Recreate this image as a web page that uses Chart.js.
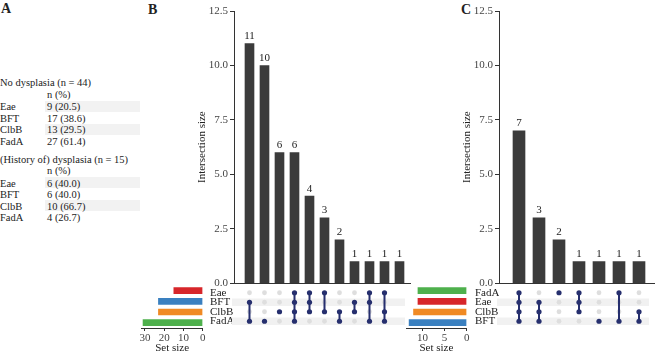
<!DOCTYPE html>
<html>
<head>
<meta charset="utf-8">
<script src="https://cdn.jsdelivr.net/npm/chart.js@4.4.1/dist/chart.umd.min.js"></script>
<style>
  body { margin: 0; width: 663px; height: 355px; background: #fff; position: relative; overflow: hidden;
         font-family: 'Liberation Serif', 'DejaVu Serif', serif; color: #222; }
  canvas { position: absolute; }
  .t { position: absolute; font-size: 10.5px; line-height: 11px; white-space: nowrap; }
  .band { position: absolute; background: #f2f2f2; left: 45px; width: 95px; height: 11px; }
  .lab { position: absolute; font-weight: bold; font-size: 14px; line-height: 14px; }
</style>
</head>
<body>
<div class="lab" style="left:1px;top:2px">A</div>
<div class="lab" style="left:148px;top:3px">B</div>
<div class="lab" style="left:461px;top:3px">C</div>
<script>
// --- panel A: table
const tableSets = ['Eae', 'BFT', 'ClbB', 'FadA'];
const groupTitles = ['No dysplasia (n = 44)', '(History of) dysplasia (n = 15)'];
const countsNo = [9, 17, 13, 27];
const pctNo = ['20.5', '38.6', '29.5', '61.4'];
const countsDys = [6, 6, 10, 4];
const pctDys = ['40.0', '40.0', '66.7', '26.7'];

// --- panel B: all patients
const setsB = ['Eae', 'BFT', 'ClbB', 'FadA'];
const setSizeB = [15, 23, 23, 31];
const interB = [11, 10, 6, 6, 4, 3, 2, 1, 1, 1, 1];
const membersB = [
  ['BFT', 'FadA'], ['FadA'], ['ClbB'], ['Eae', 'BFT', 'ClbB', 'FadA'], ['Eae', 'BFT', 'ClbB'],
  ['Eae', 'ClbB'], ['ClbB', 'FadA'], ['BFT', 'ClbB'], ['Eae', 'BFT', 'FadA'], ['Eae', 'ClbB', 'FadA'], []
];

// --- panel C
const setsC = ['FadA', 'Eae', 'ClbB', 'BFT'];
const setSizeC = [11, 11, 12, 13];
const interC = [7, 3, 2, 1, 1, 1, 1];
const membersC = [
  ['FadA', 'Eae', 'ClbB', 'BFT'], ['Eae', 'ClbB', 'BFT'], ['FadA'], ['FadA', 'Eae', 'ClbB'],
  ['BFT'], ['FadA', 'BFT'], ['ClbB', 'BFT']
];

const setColors = { Eae: '#d7262a', BFT: '#3a80c0', ClbB: '#f08a24', FadA: '#4eb04c' };
const NAVY = '#262f6e';
const FONT = "'Liberation Serif', 'DejaVu Serif', serif";

// table
function addText(txt, left, top) {
  const d = document.createElement('div');
  d.className = 't';
  d.textContent = txt;
  d.style.left = left + 'px';
  d.style.top = top + 'px';
  document.body.appendChild(d);
}
function addBand(top) {
  const d = document.createElement('div');
  d.className = 'band';
  d.style.top = top + 'px';
  document.body.appendChild(d);
}
[[countsNo, pctNo], [countsDys, pctDys]].forEach(([cnt, pct], g) => {
  const y0 = 77 + g * 76.5;
  [0, 2].forEach(r => addBand(y0 + 23.5 + r * 11.6));
  addText(groupTitles[g], 0, y0);
  addText('n (%)', 47, y0 + 11.5);
  tableSets.forEach((s, r) => {
    addText(s, 0, y0 + 24 + r * 11.6);
    addText(cnt[r] + ' (' + pct[r] + ')', 47, y0 + 24 + r * 11.6);
  });
});

Chart.defaults.font.family = FONT;
Chart.defaults.font.size = 11;
Chart.defaults.color = '#333';
Chart.defaults.animation = false;

function place(left, top, w, h) {
  const c = document.createElement('canvas');
  c.width = w; c.height = h;
  c.style.left = left + 'px'; c.style.top = top + 'px';
  c.style.width = w + 'px'; c.style.height = h + 'px';
  document.body.appendChild(c);
  return c;
}
function noPad(s) {
  s.paddingTop = 0; s.paddingBottom = 0; s.paddingLeft = 0; s.paddingRight = 0;
}

// numbers above the bars
const valueLabels = {
  id: 'valueLabels',
  afterDatasetsDraw(chart) {
    const ctx = chart.ctx;
    const ds = chart.data.datasets[0];
    ctx.save();
    ctx.font = '11px ' + FONT;
    ctx.fillStyle = '#222';
    ctx.textAlign = 'center';
    ctx.textBaseline = 'bottom';
    chart.getDatasetMeta(0).data.forEach((el, i) => ctx.fillText(String(ds.data[i].y), el.x, el.y - 2));
    ctx.restore();
  }
};

// grey stripes behind every second matrix row
const rowBands = {
  id: 'rowBands',
  beforeDatasetsDraw(chart) {
    const { ctx, chartArea, scales } = chart;
    const y = scales.y;
    const h = (chartArea.bottom - chartArea.top) / y.getLabels().length;
    ctx.save();
    ctx.fillStyle = '#f1f1f1';
    [1, 3].forEach(r => {
      const yy = y.getPixelForValue(r);
      ctx.fillRect(chartArea.left - 2, yy - h / 2 + 1, chartArea.right - chartArea.left - 3, h - 2);
    });
    ctx.restore();
  }
};

function intersectionChart(canvas, sizes, xMin, xMax, barW, padRight) {
  return new Chart(canvas, {
    type: 'bar',
    data: { datasets: [{ data: sizes.map((v, i) => ({ x: i, y: v })), backgroundColor: '#3b3b3b', barThickness: barW }] },
    options: {
      responsive: false,
      layout: { padding: { top: 11, bottom: 6.7, left: 0, right: padRight } },
      plugins: { legend: { display: false }, tooltip: { enabled: false } },
      scales: {
        x: {
          type: 'linear', min: xMin, max: xMax, offset: false,
          ticks: { display: false }, grid: { display: false, offset: false },
          border: { display: true, color: '#333' },
          afterFit(s) { s.height = 0; noPad(s); }
        },
        y: {
          min: 0, max: 12.5,
          ticks: { stepSize: 2.5, padding: 2, color: '#444', callback: v => v.toFixed(1) },
          grid: { drawOnChartArea: false, drawTicks: true, tickLength: 4, color: '#333' },
          border: { display: true, color: '#333' },
          title: { display: true, text: 'Intersection size', color: '#222', padding: { top: 16, bottom: 0 } },
          afterFit(s) { s.width = 54; noPad(s); }
        }
      }
    },
    plugins: [valueLabels]
  });
}

function matrixChart(canvas, sets, members, xMin, xMax, padRight) {
  const gray = [], dark = [], lines = [];
  members.forEach((m, i) => {
    if (!m.length) return;
    sets.forEach(s => (m.includes(s) ? dark : gray).push({ x: i, y: s }));
    if (m.length > 1) {
      const idx = m.map(s => sets.indexOf(s));
      lines.push({
        type: 'line', data: [{ x: i, y: sets[Math.min(...idx)] }, { x: i, y: sets[Math.max(...idx)] }],
        borderColor: NAVY, borderWidth: 2, pointRadius: 0, order: 2
      });
    }
  });
  return new Chart(canvas, {
    type: 'scatter',
    data: {
      datasets: [
        { data: dark, backgroundColor: NAVY, borderWidth: 0, pointRadius: 2.6, order: 1 },
        ...lines,
        { data: gray, backgroundColor: '#dedede', borderWidth: 0, pointRadius: 2.4, order: 3 }
      ]
    },
    options: {
      responsive: false,
      layout: { padding: { top: 1.3, bottom: 2, left: 0, right: padRight } },
      plugins: { legend: { display: false }, tooltip: { enabled: false } },
      scales: {
        x: { type: 'linear', min: xMin, max: xMax, offset: false, display: false },
        y: {
          type: 'category', labels: sets, offset: true,
          ticks: { crossAlign: 'far', padding: 0, color: '#222', autoSkip: false },
          grid: { display: false }, border: { display: false },
          afterFit(s) { s.width = 24; noPad(s); }
        }
      }
    },
    plugins: [rowBands]
  });
}

function setSizeChart(canvas, sets, sizes, max, step, padL, padR) {
  return new Chart(canvas, {
    type: 'bar',
    data: { labels: sets, datasets: [{ data: sizes, backgroundColor: sets.map(s => setColors[s]), barThickness: 6 }] },
    options: {
      indexAxis: 'y',
      responsive: false,
      layout: { padding: { top: 1.3, bottom: 0, left: padL, right: padR } },
      plugins: { legend: { display: false }, tooltip: { enabled: false } },
      scales: {
        y: { display: false, offset: true },
        x: {
          reverse: true, min: 0, max: max,
          ticks: { stepSize: step, includeBounds: false, padding: 1, color: '#444' },
          grid: { drawOnChartArea: false, drawTicks: true, tickLength: 3, color: '#333' },
          border: { display: true, color: '#333' },
          title: { display: true, text: 'Set size', color: '#222', padding: { top: 0, bottom: 0 } },
          afterFit(s) { s.height = 27; noPad(s); }
        }
      }
    }
  });
}

// panel B
intersectionChart(place(180, 0, 235, 290), interB, -1.033, 10.7, 9, 5);
matrixChart(place(210, 284, 205, 46), setsB, membersB, -1.033, 10.7, 5);
setSizeChart(place(135, 284, 75, 71), setsB, setSizeB, 31.8, 10, 6.5, 7.3);

// panel C
intersectionChart(place(445, 0, 215, 290), interC, -1, 6.75, 12, 6);
matrixChart(place(475, 284, 185, 46), setsC, membersC, -1, 6.75, 6);
setSizeChart(place(400, 284, 75, 71), setsC, setSizeC, 13.7, 5, 6, 8.3);
</script>
</body>
</html>
